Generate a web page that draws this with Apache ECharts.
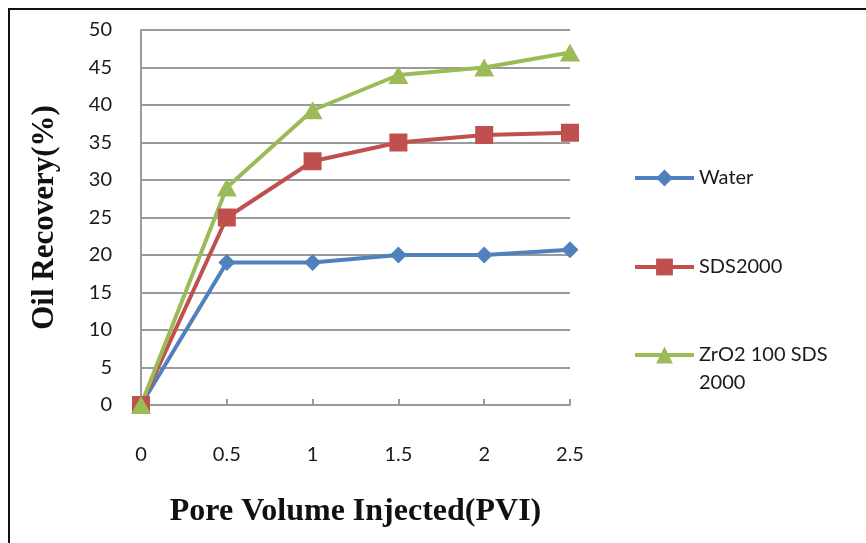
<!DOCTYPE html>
<html>
<head>
<meta charset="utf-8">
<script src="https://cdn.jsdelivr.net/npm/echarts@6/dist/echarts.min.js"></script>
<style>
  html, body { margin:0; padding:0; background:#fff; overflow:hidden; }
  #frame { position:absolute; left:8px; top:8px; width:900px; height:600px; border-top:2px solid #111; border-left:2px solid #111; }
  #chart { position:absolute; left:0; top:0; width:866px; height:543px; }
</style>
</head>
<body>
<div id="frame"></div>
<div id="chart"></div>
<script>
const pvi = [0, 0.5, 1, 1.5, 2, 2.5];
const water = [0, 19, 19, 20, 20, 20.7];
const sds2000 = [0, 25, 32.5, 35, 36, 36.3];
const zro2 = [0, 29, 39.3, 44, 45, 47];
const seriesNames = ['Water', 'SDS2000', 'ZrO2 100 SDS 2000'];
const yTicks = { min: 0, max: 50, step: 5 };
const xTicks = { min: 0, max: 2.5, step: 0.5 };

const toPairs = arr => arr.map((v, i) => [pvi[i], v]);
const labelFont = 'Lato, "Open Sans", sans-serif';
const gridColor = '#9a9a9a';

const chart = echarts.init(document.getElementById('chart'), null, { renderer: 'canvas' });
const legendBase = {
  orient: 'vertical', left: 633, padding: 0, itemWidth: 59, itemHeight: 21, itemGap: 0,
  lineStyle: { width: 4 },
  textStyle: { fontFamily: labelFont, fontSize: 20, color: '#1a1a1a', lineHeight: 28 }
};
chart.setOption({
  backgroundColor: 'transparent',
  animation: false,
  grid: { left: 141, right: 296, top: 30, bottom: 138 },
  legend: [
    Object.assign({}, legendBase, { top: 164, data: [seriesNames[0]] }),
    Object.assign({}, legendBase, { top: 253, data: [seriesNames[1]] }),
    Object.assign({}, legendBase, { top: 313, data: [seriesNames[2]],
      formatter: () => '\nZrO2 100 SDS\n2000' })
  ],
  xAxis: {
    type: 'value', min: xTicks.min, max: xTicks.max, interval: xTicks.step,
    name: 'Pore Volume Injected(PVI)', nameLocation: 'middle', nameGap: 91,
    nameTextStyle: { fontFamily: '"Liberation Serif", "DejaVu Serif", serif', fontWeight: 'bold', fontSize: 32, color: '#111' },
    axisLine: { show: true, lineStyle: { color: gridColor, width: 2 } },
    axisTick: { show: true, inside: true, length: 6, lineStyle: { color: gridColor, width: 2 } },
    axisLabel: { fontFamily: labelFont, fontSize: 20, color: '#1a1a1a', margin: 40 },
    splitLine: { show: false }
  },
  yAxis: {
    type: 'value', min: yTicks.min, max: yTicks.max, interval: yTicks.step,
    name: 'Oil Recovery(%)', nameLocation: 'middle', nameGap: 81,
    nameTextStyle: { fontFamily: '"Liberation Serif", "DejaVu Serif", serif', fontWeight: 'bold', fontSize: 31, color: '#111' },
    axisLine: { show: true, lineStyle: { color: gridColor, width: 2 } },
    axisTick: { show: false },
    axisLabel: { fontFamily: labelFont, fontSize: 20, color: '#1a1a1a', margin: 29 },
    splitLine: { show: true, lineStyle: { color: gridColor, width: 2 } }
  },
  series: [
    { name: seriesNames[0], type: 'line', data: toPairs(water), symbol: 'diamond', symbolSize: 17,
      itemStyle: { color: '#4F81BD' }, lineStyle: { width: 4, color: '#4F81BD' } },
    { name: seriesNames[1], type: 'line', data: toPairs(sds2000), symbol: 'rect', symbolSize: 18,
      itemStyle: { color: '#C0504D' }, lineStyle: { width: 4, color: '#C0504D' } },
    { name: seriesNames[2], type: 'line', data: toPairs(zro2), symbol: 'triangle', symbolSize: [20, 18],
      itemStyle: { color: '#9BBB59' }, lineStyle: { width: 4, color: '#9BBB59' } }
  ]
});
</script>
</body>
</html>
